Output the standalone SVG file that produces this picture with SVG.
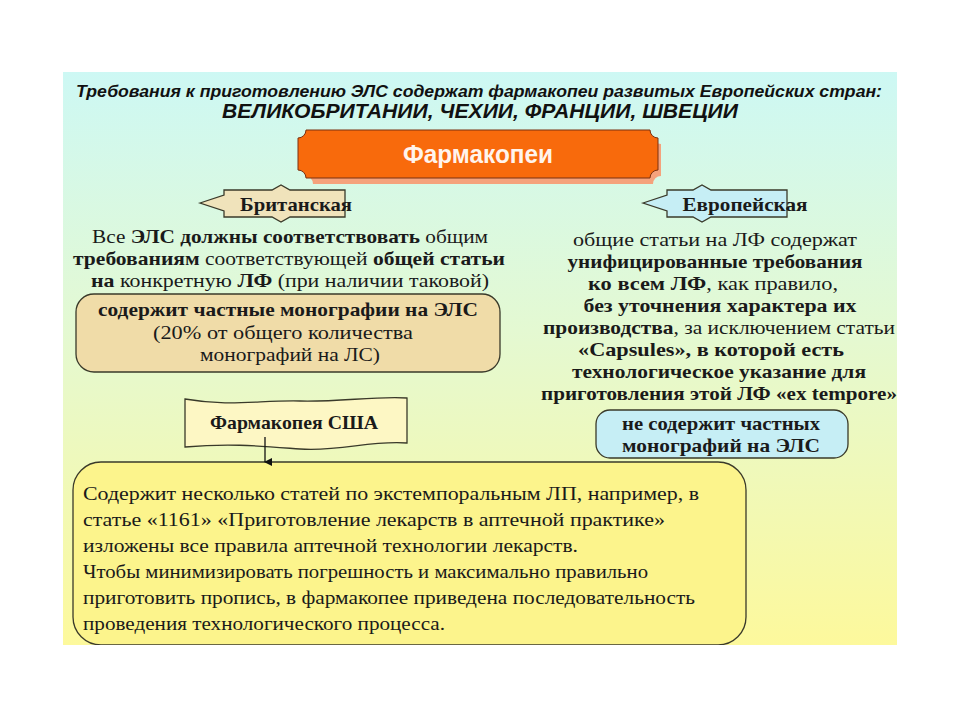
<svg xmlns="http://www.w3.org/2000/svg" width="960" height="720" viewBox="0 0 960 720">
<defs>
<linearGradient id="bg" x1="0" y1="0" x2="0" y2="1">
<stop offset="0" stop-color="#cdf8f4"/>
<stop offset="0.45" stop-color="#e4f9d2"/>
<stop offset="1" stop-color="#fdf99c"/>
</linearGradient>
<marker id="ah" markerWidth="8" markerHeight="8" refX="4" refY="7" orient="auto-start-reverse" markerUnits="userSpaceOnUse" viewBox="0 0 8 8">
<path d="M0,0 L8,0 L4,8 Z" fill="#111"/>
</marker>
<style>
.ttl{font-family:"Liberation Sans",Arial,sans-serif;font-weight:bold;font-style:italic;fill:#111;}
.ser{font-family:"Liberation Serif","Times New Roman",serif;fill:#1a1a1a;font-size:19px;}
.b{font-weight:bold;}
.stk{stroke:#3a3a2a;stroke-width:1.3;}
</style>
</defs>
<rect width="960" height="720" fill="#ffffff"/>
<rect x="63" y="72" width="834" height="573" fill="url(#bg)"/>

<g id="title">
<text class="ttl" x="479" y="97" font-size="17" text-anchor="middle" textLength="806" lengthAdjust="spacingAndGlyphs">Требования к приготовлению ЭЛС содержат фармакопеи развитых Европейских стран:</text>
<text class="ttl" x="480" y="118" font-size="20" text-anchor="middle" textLength="516" lengthAdjust="spacingAndGlyphs">ВЕЛИКОБРИТАНИИ,  ЧЕХИИ,  ФРАНЦИИ,  ШВЕЦИИ</text>
</g>

<g id="pharmacopoeia">
<path d="M313,136 h340 a8,8 0 0 0 8,8 v32 a8,8 0 0 0 -8,8 h-340 a8,8 0 0 0 -8,-8 v-32 a8,8 0 0 0 8,-8 Z" fill="#f5a27c"/>
<path d="M306,130 h344 a8,8 0 0 0 8,8 v32 a8,8 0 0 0 -8,8 h-344 a8,8 0 0 0 -8,-8 v-32 a8,8 0 0 0 8,-8 Z" fill="#f86a0c" stroke="#7a3010" stroke-width="1"/>
<text x="478" y="163" font-family="'Liberation Sans',Arial,sans-serif" font-weight="bold" font-size="25" fill="#fff4ec" text-anchor="middle" textLength="150" lengthAdjust="spacingAndGlyphs">Фармакопеи</text>
</g>

<g id="british">
<path d="M200,203 L224,195 L224,190 L272,190 L281,185 L290,190 L345,190 L345,217 L290,217 L281,222 L272,217 L224,217 L224,211 Z" fill="#f0e3bb" class="stk"/>
<text class="ser b" x="296" y="211" text-anchor="middle" textLength="112" lengthAdjust="spacingAndGlyphs">Британская</text>
<text class="ser" x="290" y="243" text-anchor="middle" textLength="396" lengthAdjust="spacingAndGlyphs">Все <tspan class="b">ЭЛС должны соответствовать</tspan> общим</text>
<text class="ser" x="289" y="265" text-anchor="middle" textLength="432" lengthAdjust="spacingAndGlyphs"><tspan class="b">требованиям</tspan> соответствующей <tspan class="b">общей статьи</tspan></text>
<text class="ser" x="290" y="287" text-anchor="middle" textLength="398" lengthAdjust="spacingAndGlyphs"><tspan class="b">на</tspan> конкретную <tspan class="b">ЛФ</tspan> (при наличии таковой)</text>
</g>

<g id="british-box">
<rect x="76" y="294" width="424" height="78" rx="18" fill="#f0dca8" class="stk"/>
<text class="ser b" x="288" y="316" text-anchor="middle" textLength="380" lengthAdjust="spacingAndGlyphs">содержит частные монографии на ЭЛС</text>
<text class="ser" x="283" y="339" text-anchor="middle" textLength="260" lengthAdjust="spacingAndGlyphs">(20% от общего количества</text>
<text class="ser" x="290" y="361" text-anchor="middle" textLength="180" lengthAdjust="spacingAndGlyphs">монографий на ЛС)</text>
</g>

<g id="european">
<path d="M643,203 L667,195 L667,190 L693,190 L702,185 L711,190 L787,190 L787,217 L711,217 L702,222 L693,217 L667,217 L667,211 Z" fill="#c6eef5" class="stk"/>
<text class="ser b" x="745" y="211" text-anchor="middle" textLength="125" lengthAdjust="spacingAndGlyphs">Европейская</text>
<text class="ser" x="715" y="246" text-anchor="middle" textLength="284" lengthAdjust="spacingAndGlyphs">общие статьи на  ЛФ содержат</text>
<text class="ser b" x="715" y="268" text-anchor="middle" textLength="295" lengthAdjust="spacingAndGlyphs">унифицированные требования</text>
<text class="ser" x="713" y="290" text-anchor="middle" textLength="250" lengthAdjust="spacingAndGlyphs"><tspan class="b">ко всем ЛФ</tspan>, как правило,</text>
<text class="ser b" x="720" y="312" text-anchor="middle" textLength="273" lengthAdjust="spacingAndGlyphs">без уточнения характера их</text>
<text class="ser" x="719" y="334" text-anchor="middle" textLength="352" lengthAdjust="spacingAndGlyphs"><tspan class="b">производства</tspan>, за исключением статьи</text>
<text class="ser b" x="711" y="356" text-anchor="middle" textLength="266" lengthAdjust="spacingAndGlyphs">«Capsules», в которой есть</text>
<text class="ser b" x="719" y="378" text-anchor="middle" textLength="294" lengthAdjust="spacingAndGlyphs">технологическое указание для</text>
<text class="ser b" x="719" y="400" text-anchor="middle" textLength="356" lengthAdjust="spacingAndGlyphs">приготовления этой ЛФ «ex tempore»</text>
</g>

<g id="european-box">
<rect x="596" y="410" width="252" height="48" rx="14" fill="#c6eef5" class="stk"/>
<text class="ser b" x="721" y="430" text-anchor="middle" textLength="198" lengthAdjust="spacingAndGlyphs">не содержит частных</text>
<text class="ser b" x="721" y="452" text-anchor="middle" textLength="198" lengthAdjust="spacingAndGlyphs">монографий на ЭЛС</text>
</g>

<g id="usa">
<path d="M185,399 C230,407 260,400 300,401 C340,402 375,396 407,398 L407,443 C370,440 340,452 300,449 C260,446 230,443 185,447 Z" fill="#fdf7c4" class="stk"/>
<text class="ser b" x="294" y="429" text-anchor="middle" textLength="168" lengthAdjust="spacingAndGlyphs">Фармакопея США</text>
</g>

<g id="usa-box">
<rect x="73" y="462" width="673" height="183" rx="28" fill="#fcf48c" class="stk"/>
<text class="ser" x="83" y="500" font-size="20" textLength="616" lengthAdjust="spacingAndGlyphs">Содержит несколько статей по экстемпоральным ЛП, например, в</text>
<text class="ser" x="83" y="526" font-size="20" textLength="582" lengthAdjust="spacingAndGlyphs">статье «1161» «Приготовление лекарств в аптечной практике»</text>
<text class="ser" x="83" y="552" font-size="20" textLength="495" lengthAdjust="spacingAndGlyphs">изложены все правила аптечной технологии лекарств.</text>
<text class="ser" x="83" y="578" font-size="20" textLength="565" lengthAdjust="spacingAndGlyphs">Чтобы минимизировать погрешность и максимально правильно</text>
<text class="ser" x="83" y="604" font-size="20" textLength="612" lengthAdjust="spacingAndGlyphs">приготовить пропись, в фармакопее приведена последовательность</text>
<text class="ser" x="83" y="630" font-size="20" textLength="362" lengthAdjust="spacingAndGlyphs">проведения технологического процесса.</text>
</g>

<g id="connectors">
<line x1="265" y1="437" x2="265" y2="462" stroke="#111" stroke-width="1.3" marker-end="url(#ah)"/>
</g>
<rect x="0" y="645" width="960" height="75" fill="#ffffff"/>
</svg>
